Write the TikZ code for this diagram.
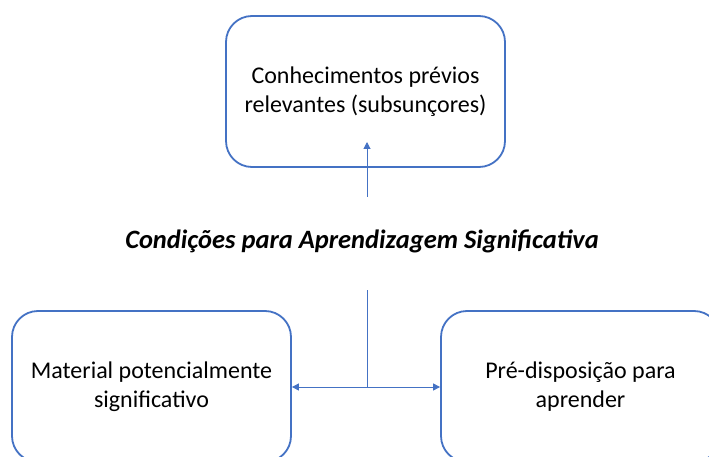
\documentclass[tikz,border=0pt]{standalone}
\usepackage{fontspec}
\setmainfont{Carlito}
\usepackage{tikz}
\usetikzlibrary{arrows.meta}
\definecolor{caixaazul}{HTML}{4472C4}

\begin{document}
\begin{tikzpicture}[x=1pt,y=-1pt,
	caixa/.style={draw=caixaazul,line width=1.8pt,rounded corners=26pt,minimum width=279pt,minimum height=151pt,align=center,font=\fontsize{24}{29}\selectfont,inner sep=0pt},
	seta/.style={draw=caixaazul,line width=1pt,-{Triangle[length=7pt,width=7pt]}},
	dupla/.style={draw=caixaazul,line width=1pt,{Triangle[length=7pt,width=7pt]}-{Triangle[length=7pt,width=7pt]}}]
	\useasboundingbox (0,0) rectangle (709,457);
	\clip (0,0) rectangle (709,457);
	\node[caixa] (conhec) at (365.5,91.5) {Conhecimentos prévios\\relevantes (subsunçores)};
	\node[caixa] (material) at (151.5,386.5) {Material potencialmente\\significativo};
	\node[caixa] (predisp) at (580.5,386.5) {Pré-disposição para\\aprender};
	\node[font=\fontsize{26.5}{32}\selectfont\bfseries\itshape] (titulo) at (362,241) {Condições para Aprendizagem Significativa};
	% ligacoes
	\coordinate (base) at (367,197);
	\coordinate (ponta) at (367,142);
	\coordinate (topo) at (367,290);
	\coordinate (juncao) at (367,387);
	\draw[seta] (base) -- (ponta);
	\draw[draw=caixaazul,line width=1pt] (topo) -- (juncao);
	\draw[dupla] (material.east |- juncao) -- (predisp.west |- juncao);
\end{tikzpicture}
\end{document}
